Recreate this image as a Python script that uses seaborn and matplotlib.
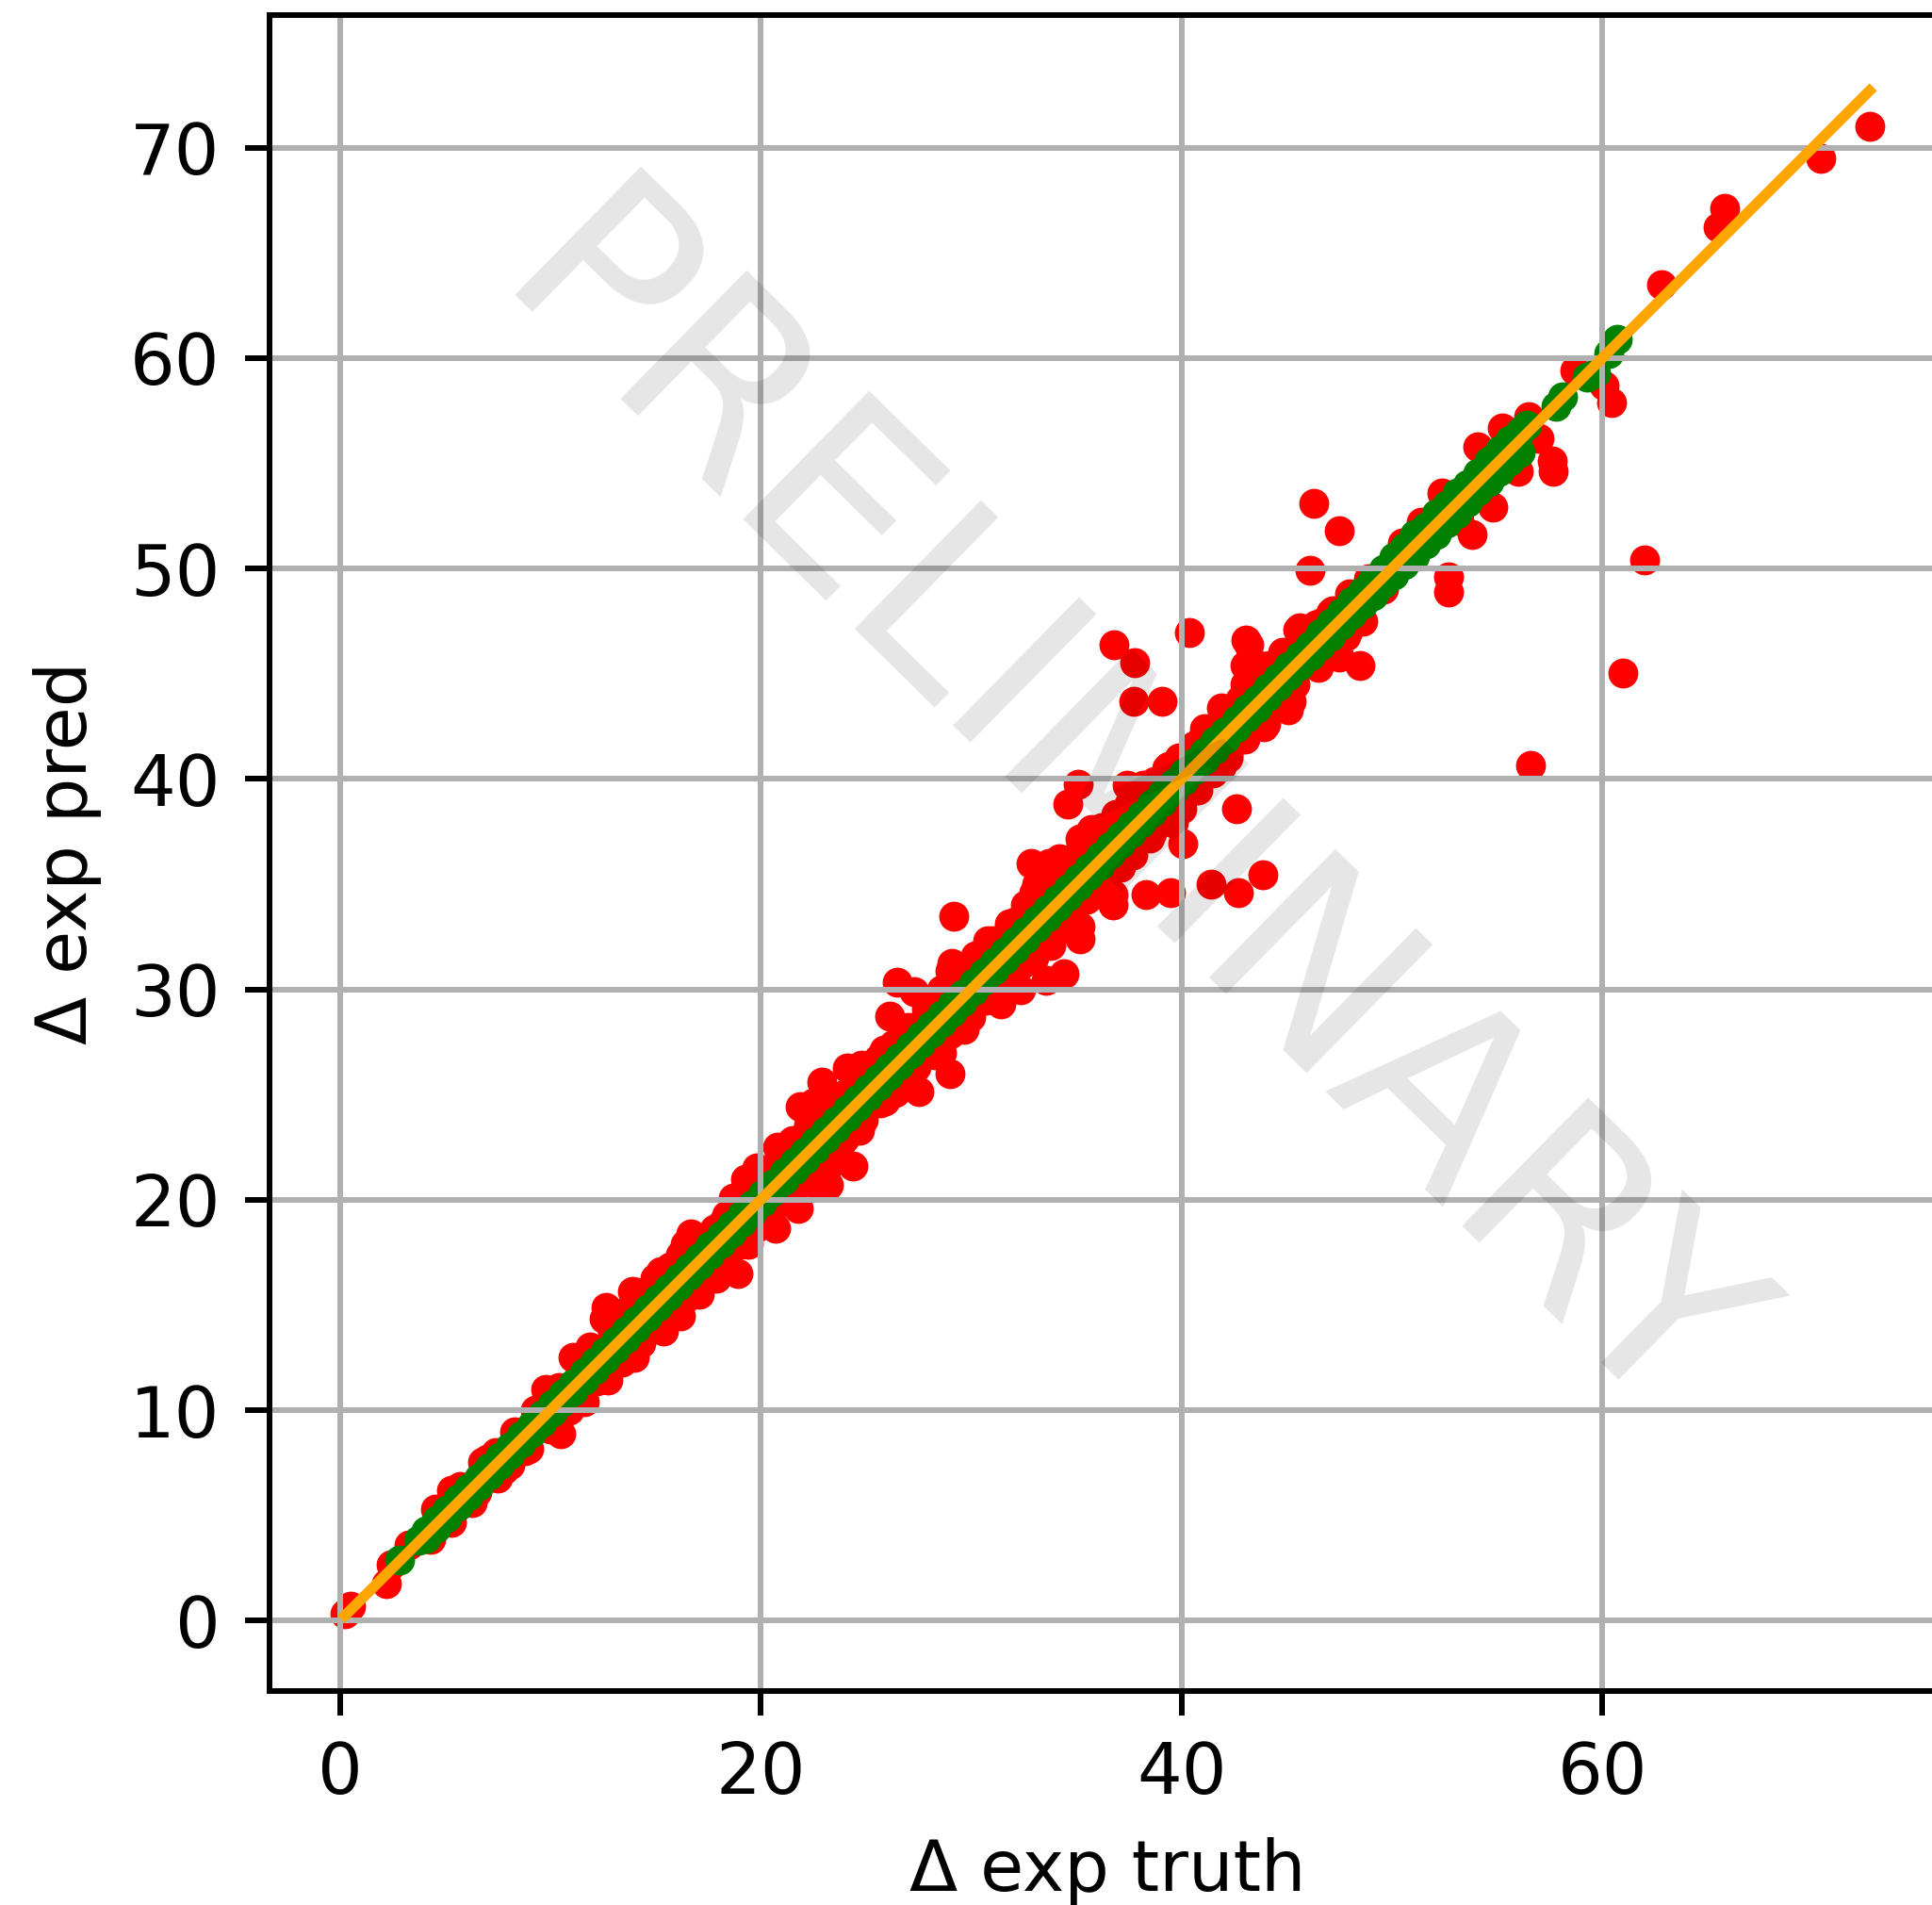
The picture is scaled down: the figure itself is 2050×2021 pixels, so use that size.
import matplotlib; matplotlib.use('Agg')
import seaborn as sns
import matplotlib.pyplot as plt

# red points: off-diagonal predictions
red_truth = [
    0.25, 0.5, 2.2, 2.45, 3.3, 4.3, 4.55, 5.3, 5.3, 6.5, 6.8, 7.4, 8.1, 9.0, 9.8, 10.5,
    11.1, 11.6, 12.55, 12.65, 12.76, 14.0, 14.1, 15.4, 11.9, 13.9, 15.25, 16.4, 16.7, 16.2,
    17.1, 17.9, 18.3, 18.7, 18.9, 19.3, 19.4, 19.8, 20.7, 20.8, 21.4, 21.8, 21.9, 22.5, 22.7,
    22.9, 23.2, 23.4, 23.8, 24.1, 24.4, 24.4, 24.7, 24.8, 25.85, 25.9, 26.15, 26.5, 27.3, 27.5,
    28.6, 29.0, 29.1, 29.2, 29.0, 29.65, 30.0, 30.8, 31.4, 31.8, 32.35, 32.7, 32.85, 33.0, 33.0,
    33.55, 33.7, 33.8, 34.2, 34.4, 34.6, 35.1, 35.2, 35.2, 35.2, 35.7, 36.75, 36.75, 36.8, 37.1,
    37.4, 37.75, 37.8, 38.1, 38.2, 38.3, 39.1, 39.4, 39.5, 39.6, 40.05, 40.36, 40.8, 40.9, 41.1,
    41.4, 41.9, 41.9, 42.6, 42.6, 42.7, 43.0, 43.0, 43.06, 43.2, 43.7, 43.85, 43.9, 44.0, 44.8,
    45.1, 45.2, 45.3, 45.55, 45.6, 46.1, 46.3, 46.5, 46.6, 47.2, 47.5, 47.5, 48.5, 48.6, 51.4,
    52.4, 52.7, 52.7, 53.8, 54.1, 54.8, 55.25, 56.0, 56.5, 56.6, 57.0, 57.6, 57.65, 58.7, 60.1,
    60.45, 61.0, 62.0, 62.8, 65.5, 65.8, 70.4, 72.7,
    7.0, 7.8, 8.5, 8.9, 9.4, 10.0, 10.9, 11.4, 12.3, 13.0, 13.5, 14.6, 15.0, 15.9, 16.0, 17.4,
    17.6, 18.2, 18.6, 19.6, 20.2, 20.3, 21.0, 22.2, 23.0, 23.6, 26.0, 26.4, 27.2, 28.0, 28.3,
    30.3, 30.9, 32.1, 34.9, 36.3, 38.6, 39.0, 42.2, 44.4, 46.9, 47.9, 48.9, 49.6, 50.5, 53.2,
    # dense part along the upper edge of the band
    5.7, 6.9, 8.3, 9.3, 10.4, 11.6, 12.9, 13.4, 14.4, 15.0, 15.7, 16.2, 17.0, 17.8, 18.4, 19.0,
    20.9, 21.5, 22.3, 23.2, 24.0, 24.9, 25.6, 26.3, 27.0, 27.9, 28.6, 29.4, 30.2, 31.0, 31.8,
    32.6, 33.1, 33.5, 34.1, 34.8, 35.5, 36.2, 36.9, 37.5, 38.0, 38.7, 39.3, 39.9, 40.6, 41.3,
    42.0, 42.8, 43.5, 44.2, 44.9, 45.7, 46.4, 47.1, 48.0,
    # dense part along the lower edge of the band
    6.3, 7.5, 8.8, 9.9, 11.0, 12.2, 13.4, 14.3, 15.0, 15.8, 16.5, 17.4, 18.1, 19.0, 19.8,
    20.8, 21.6, 22.5, 23.3, 24.0, 24.9, 25.7, 26.6, 27.4, 28.2, 29.0, 29.9, 30.7, 31.5, 32.4,
    33.2, 34.0, 34.7, 35.5, 36.2, 37.0, 37.7, 38.5, 39.2, 40.0, 40.7, 41.5, 42.2, 43.0, 43.8,
    44.6, 45.4, 46.2, 47.0, 47.8
]
red_pred = [
    0.33, 0.7, 1.75, 2.65, 3.6, 3.85, 5.3, 6.2, 4.7, 6.1, 7.55, 8.0, 7.4, 8.15, 11.0, 8.9,
    12.5, 10.4, 14.35, 14.9, 11.45, 12.5, 15.6, 13.75, 13.0, 15.65, 16.6, 17.9, 18.4, 14.5,
    15.5, 16.3, 17.3, 20.1, 16.5, 21.0, 17.9, 21.5, 18.65, 22.5, 22.7, 19.6, 24.45, 24.6, 20.7,
    25.6, 20.7, 21.8, 22.7, 26.25, 23.3, 21.6, 23.3, 26.4, 27.1, 24.7, 28.75, 30.35, 29.9, 25.15,
    27.0, 26.0, 31.25, 33.5, 30.9, 28.1, 28.7, 32.3, 29.3, 33.0, 30.0, 33.7, 36.0, 34.6, 31.5,
    30.45, 36.0, 32.1, 36.2, 30.75, 38.8, 39.75, 32.4, 33.0, 37.15, 37.6, 34.0, 34.5, 46.4, 35.8,
    39.7, 43.7, 45.55, 37.2, 39.7, 34.5, 43.7, 40.6, 34.6, 37.9, 36.95, 46.96, 39.5, 41.8, 42.4,
    35.0, 40.6, 43.4, 38.6, 41.8, 34.6, 45.4, 44.5, 46.6, 46.4, 45.4, 35.45, 42.5, 42.6, 46.0,
    43.3, 43.7, 45.3, 47.1, 47.2, 49.9, 53.1, 45.3, 47.4, 48.0, 51.8, 45.8, 45.4, 47.5, 52.2,
    53.6, 49.6, 48.9, 51.6, 55.8, 52.9, 56.7, 54.6, 57.2, 40.65, 56.2, 55.1, 54.6, 59.4, 58.7,
    57.9, 45.05, 50.4, 63.5, 66.2, 67.1, 69.5, 71.0,
    7.7, 7.2, 8.7, 8.3, 9.9, 9.1, 10.0, 12.1, 11.6, 13.8, 12.7, 15.5, 15.6, 15.2, 16.9, 16.3,
    18.3, 18.9, 17.8, 18.9, 21.3, 19.2, 20.2, 23.2, 23.9, 22.1, 26.9, 25.1, 28.2, 29.0, 26.9,
    31.2, 29.6, 33.2, 33.9, 37.3, 37.4, 39.8, 41.0, 43.4, 46.0, 47.0, 49.5, 49.0, 51.2, 52.3,
    6.4, 7.6, 9.0, 10.0, 11.1, 12.4, 13.9, 14.6, 15.4, 16.3, 16.8, 17.4, 18.0, 18.6, 19.3, 20.0,
    22.0, 22.8, 23.6, 24.4, 25.0, 26.0, 26.7, 27.4, 28.2, 29.1, 30.0, 30.6, 31.6, 32.3, 33.1,
    34.0, 35.0, 35.3, 35.5, 36.2, 37.0, 37.7, 38.3, 38.8, 39.3, 39.9, 40.5, 41.0, 41.6, 42.4,
    43.0, 43.8, 44.6, 45.4, 45.9, 46.6, 47.3, 47.9, 48.8,
    5.6, 6.8, 8.1, 9.2, 10.3, 11.4, 12.3, 13.2, 13.9, 14.8, 15.4, 16.4, 17.1, 17.9, 18.7,
    19.8, 20.6, 21.4, 22.2, 22.9, 23.8, 24.6, 25.5, 26.3, 27.1, 27.9, 28.8, 29.5, 30.4, 31.2,
    31.9, 32.8, 33.5, 34.3, 35.0, 35.8, 36.4, 37.2, 38.0, 38.6, 39.5, 40.3, 41.1, 41.9, 42.7,
    43.6, 44.5, 45.5, 46.1, 46.8
]

# green points: predictions close to the diagonal
green_truth = [
    2.84, 3.73, 4.1, 4.6, 5.1, 5.6, 6.1, 6.6, 7.1, 7.6,
    8.1, 8.6, 9.1, 9.6, 10.1, 10.6, 11.1, 11.6, 12.1, 12.6,
    13.1, 13.6, 14.1, 14.6, 15.1, 15.6, 16.1, 16.6, 17.1, 17.6,
    18.1, 18.6, 19.1, 19.6, 20.1, 20.6, 21.1, 21.6, 22.1, 22.6,
    23.1, 23.6, 24.1, 24.6, 25.1, 25.6, 26.1, 26.6, 27.1, 27.6,
    28.1, 28.6, 29.1, 29.6, 30.1, 30.6, 31.1, 31.6, 32.1, 32.6,
    33.1, 33.6, 34.1, 34.6, 35.1, 35.6, 36.1, 36.6, 37.1, 37.6,
    38.1, 38.6, 39.1, 39.6, 40.1, 40.6, 41.1, 41.6, 42.1, 42.6,
    43.1, 43.6, 44.1, 44.6, 45.1, 45.6, 46.1, 46.6, 47.1, 47.6,
    48.1, 48.6, 49.1, 49.6, 50.1, 50.6, 51.1, 51.6, 52.1, 52.6,
    53.1, 53.6, 54.1, 54.6, 55.1, 55.6, 56.1, 56.4, 57.8, 58.1,
    59.3, 59.7, 60.3, 60.7,
    # second row just under the diagonal
    4.1, 4.6, 5.1, 5.6, 6.1, 6.6, 7.1, 7.6,
    8.1, 8.6, 9.1, 9.6, 10.1, 10.6, 11.1, 11.6, 12.1, 12.6,
    13.1, 13.6, 14.1, 14.6, 15.1, 15.6, 16.1, 16.6, 17.1, 17.6,
    18.1, 18.6, 19.1, 19.6, 20.1, 20.6, 21.1, 21.6, 22.1, 22.6,
    23.1, 23.6, 24.1, 24.6, 25.1, 25.6, 26.1, 26.6, 27.1, 27.6,
    28.1, 28.6, 29.1, 29.6, 30.1, 30.6, 31.1, 31.6, 32.1, 32.6,
    33.1, 33.6, 34.1, 34.6, 35.1, 35.6, 36.1, 36.6, 37.1, 37.6,
    38.1, 38.6, 39.1, 39.6, 40.1, 40.6, 41.1, 41.6, 42.1, 42.6,
    43.1, 43.6, 44.1, 44.6, 45.1, 45.6, 46.1, 46.6, 47.1, 47.6,
    48.1, 48.6, 49.1, 49.6, 50.1, 50.6, 51.1, 51.6, 52.1, 52.6,
    53.1, 53.6, 54.1, 54.6, 55.1, 55.6, 56.1
]
green_pred = [
    2.87, 3.84, 4.28, 4.78, 5.28, 5.78, 6.28, 6.78, 7.28, 7.78,
    8.28, 8.78, 9.28, 9.78, 10.28, 10.78, 11.28, 11.78, 12.28, 12.78,
    13.28, 13.78, 14.28, 14.78, 15.28, 15.78, 16.28, 16.78, 17.28, 17.78,
    18.28, 18.78, 19.28, 19.78, 20.28, 20.78, 21.28, 21.78, 22.28, 22.78,
    23.28, 23.78, 24.28, 24.78, 25.28, 25.78, 26.28, 26.78, 27.28, 27.78,
    28.28, 28.78, 29.28, 29.78, 30.28, 30.78, 31.28, 31.78, 32.28, 32.78,
    33.28, 33.78, 34.28, 34.78, 35.28, 35.78, 36.28, 36.78, 37.28, 37.78,
    38.28, 38.8, 39.28, 39.8, 40.28, 40.8, 41.28, 41.8, 42.28, 42.8,
    42.95, 43.8, 43.9, 44.8, 44.9, 45.85, 45.85, 46.9, 46.8, 47.9,
    47.8, 48.95, 48.7, 49.95, 49.7, 51.0, 50.6, 52.0, 51.6, 53.0,
    52.6, 54.0, 53.7, 55.1, 54.6, 56.1, 55.5, 56.8, 57.7, 58.15,
    59.1, 59.3, 60.2, 60.9,
    3.92, 4.42, 4.92, 5.42, 5.92, 6.42, 6.92, 7.42,
    7.92, 8.42, 8.92, 9.42, 9.92, 10.42, 10.92, 11.42, 11.92, 12.42,
    12.92, 13.42, 13.92, 14.42, 14.92, 15.42, 15.92, 16.42, 16.92, 17.42,
    17.92, 18.42, 18.92, 19.42, 19.92, 20.42, 20.92, 21.42, 21.92, 22.42,
    22.92, 23.42, 23.92, 24.42, 24.92, 25.42, 25.92, 26.42, 26.92, 27.42,
    27.92, 28.42, 28.92, 29.42, 29.92, 30.42, 30.92, 31.42, 31.92, 32.42,
    32.92, 33.42, 33.92, 34.42, 34.92, 35.42, 35.92, 36.42, 36.92, 37.42,
    37.92, 38.42, 38.92, 39.42, 39.92, 40.42, 40.92, 41.42, 41.92, 42.42,
    43.35, 43.4, 44.3, 44.4, 45.35, 45.4, 46.35, 46.35, 47.4, 47.3,
    48.45, 48.3, 49.5, 49.3, 50.55, 50.2, 51.6, 51.15, 52.6, 52.15,
    53.6, 53.15, 54.55, 54.15, 55.6, 55.1, 56.5
]

# identity line endpoints
line_x = [0.25, 72.7]
x_ticks = [0, 20, 40, 60]
y_ticks = [0, 10, 20, 30, 40, 50, 60, 70]

fig = plt.figure(figsize=(2050 / 540, 2021 / 540), dpi=540)
# the saved picture was cropped, right spine falls outside the canvas
ax = fig.add_axes([286 / 2050, 1 - 1794 / 2021, 1778 / 2050, 1778 / 2021])

sns.scatterplot(x=red_truth, y=red_pred, color='red', s=18, linewidth=0, ax=ax)
sns.scatterplot(x=green_truth, y=green_pred, color='green', s=18, linewidth=0, ax=ax)
sns.lineplot(x=line_x, y=line_x, color='orange', linewidth=1.5, estimator=None, ax=ax)

ax.set_xlim(-3.34, 76.3)
ax.set_ylim(-3.34, 76.3)
ax.set_xticks(x_ticks)
ax.set_yticks(y_ticks)
ax.grid(True)
ax.set_xlabel('Δ exp truth')
ax.set_ylabel('Δ exp pred')

ax.text(0.508, 0.52, 'PRELIMINARY', transform=ax.transAxes, fontsize=35, color='black', alpha=0.1,
        rotation=-44.5, ha='center', va='center')

fig.savefig('out.png', dpi=540)
